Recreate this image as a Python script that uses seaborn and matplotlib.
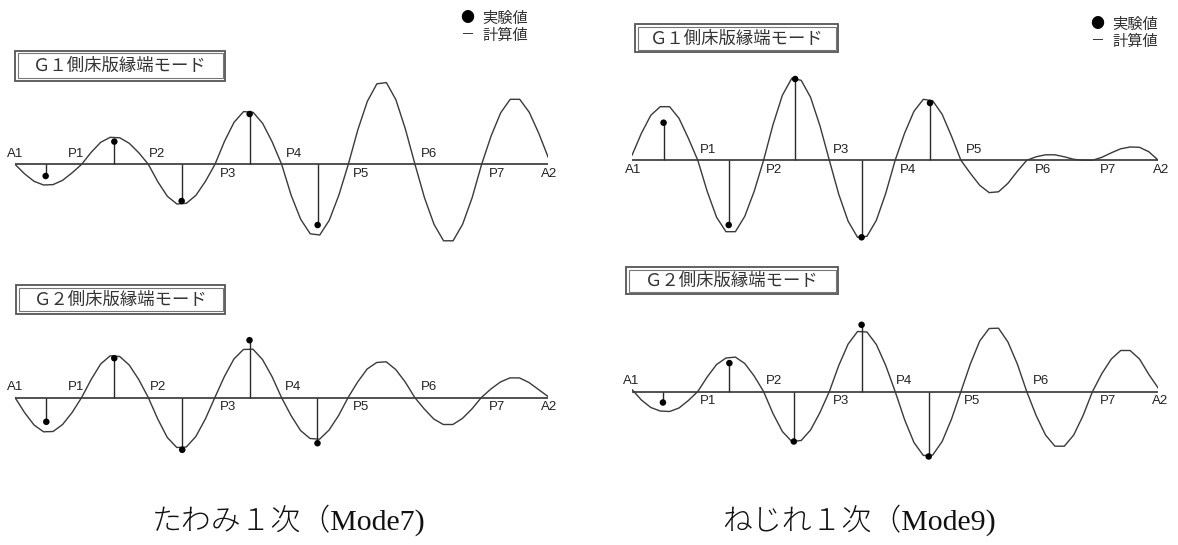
import numpy as np
import matplotlib
matplotlib.use("Agg")
import matplotlib.pyplot as plt
from matplotlib.patches import Rectangle
from matplotlib.transforms import Affine2D
import seaborn as sns

# ---- data -------------------------------------------------------------
support_labels = ["A1", "P1", "P2", "P3", "P4", "P5", "P6", "P7", "A2"]
panel_titles = ["Ｇ１側床版縁端モード", "Ｇ１側床版縁端モード",
                "Ｇ２側床版縁端モード", "Ｇ２側床版縁端モード"]
mode_captions = ["たわみ１次（Mode7)", "ねじれ１次（Mode9)"]
legend_labels = ["実験値", "計算値"]

# computed mode shape, 7 elements per span (57 nodes, A1 -> A2)
g1_mode7_calc = [
    0.0,
    -9.5, -17.0, -20.7, -20.3, -16.0, -8.5, 0.0,
    12.0, 22.0, 27.0, 26.5, 21.0, 11.5, 0.0,
    -17.5, -32.0, -39.7, -39.0, -31.0, -17.0, 0.0,
    23.0, 42.0, 52.7, 52.0, 41.0, 22.5, 0.0,
    -31.0, -55.0, -69.5, -70.7, -56.0, -31.0, 0.0,
    34.5, 63.0, 80.5, 81.7, 64.5, 35.0, 0.0,
    -33.5, -60.0, -76.5, -76.5, -60.0, -33.5, 0.0,
    28.5, 51.5, 65.0, 65.0, 52.0, 31.0, 6.7]
g1_mode9_calc = [
    5.0,
    27.0, 45.0, 53.6, 53.6, 42.0, 22.0, 0.0,
    -31.0, -57.0, -71.4, -71.4, -56.0, -31.0, 0.0,
    35.5, 65.0, 82.0, 80.0, 63.0, 34.5, 0.0,
    -34.0, -61.0, -77.0, -76.0, -60.0, -33.0, 0.0,
    27.0, 49.0, 61.0, 59.5, 46.0, 24.0, 0.0,
    -13.0, -25.0, -32.3, -31.5, -23.0, -11.0, 0.0,
    3.5, 5.5, 5.5, 3.5, 1.0, 0.0, 0.0,
    3.0, 7.5, 11.5, 13.3, 13.0, 8.5, 0.0]
g2_mode7_calc = [
    0.0,
    -15.0, -27.5, -34.3, -34.0, -27.0, -15.0, 0.0,
    18.0, 33.5, 41.7, 41.0, 32.5, 18.0, 0.0,
    -21.5, -40.0, -50.0, -49.5, -39.0, -21.5, 0.0,
    21.0, 38.5, 48.0, 48.3, 38.0, 21.0, 0.0,
    -18.0, -33.0, -41.0, -41.7, -32.5, -18.0, 0.0,
    15.5, 28.5, 35.0, 35.7, 28.0, 15.5, 0.0,
    -11.5, -21.5, -27.0, -27.0, -21.0, -11.5, 0.0,
    8.5, 15.5, 19.6, 19.6, 15.0, 8.0, 1.0]
g2_mode9_calc = [
    2.0,
    -8.5, -16.0, -19.5, -20.0, -16.5, -9.0, 0.0,
    14.5, 27.0, 33.5, 34.4, 28.0, 15.5, 0.0,
    -22.0, -40.0, -50.0, -49.0, -38.5, -21.0, 0.0,
    26.0, 47.5, 60.0, 59.5, 47.0, 26.0, 0.0,
    -28.0, -51.0, -64.0, -63.5, -50.0, -27.5, 0.0,
    27.5, 50.5, 63.0, 63.3, 49.5, 27.5, 0.0,
    -24.0, -43.5, -54.7, -54.7, -43.5, -24.0, 0.0,
    18.0, 32.5, 41.0, 41.0, 32.5, 17.0, 3.3]

# measured values (position in spans from A1, amplitude)
g1_mode7_exp_x = [0.46, 1.49, 2.50, 3.52, 4.54]
g1_mode7_exp_y = [-11.7, 22.7, -36.7, 50.3, -60.7]
g1_mode9_exp_x = [0.48, 1.47, 2.48, 3.49, 4.53]
g1_mode9_exp_y = [37.6, -64.7, 81.3, -77.0, 57.3]
g2_mode7_exp_x = [0.47, 1.49, 2.51, 3.52, 4.54]
g2_mode7_exp_y = [-24.3, 39.3, -52.3, 57.3, -45.7]
g2_mode9_exp_x = [0.47, 1.48, 2.46, 3.49, 4.51]
g2_mode9_exp_y = [-11.0, 28.4, -50.0, 66.7, -65.0]

# ---- style ------------------------------------------------------------
sns.set_theme(style="white")
plt.rcParams["font.family"] = ["Noto Sans CJK JP", "DejaVu Sans"]

W, H = 1178, 545
fig = plt.figure(figsize=(W / 100, H / 100), dpi=100)
fig.patch.set_facecolor("white")
# pixel transform with origin at the top-left corner of the figure
PX = Affine2D().scale(1.0 / W, -1.0 / H).translate(0, 1) + fig.transFigure

HALF = 100  # half height of each panel in pixels (1 unit = 1 px)
N_SPANS = len(support_labels) - 1
ELEMS = 7
node_x = np.arange(N_SPANS * ELEMS + 1) / ELEMS

# side: a = label above the girder line, b = below
panels = [
    dict(calc=g1_mode7_calc, ex=g1_mode7_exp_x, ey=g1_mode7_exp_y,
         x0=15, x1=548.3, base=164.3, side="aaabababb",
         dx=[0.0, -0.08, 0.13, 0.19, 0.19, 0.19, 0.21, 0.23, 0.01],
         title=panel_titles[0], box=(15, 50.7, 210, 30)),
    dict(calc=g1_mode9_calc, ex=g1_mode9_exp_x, ey=g1_mode9_exp_y,
         x0=632, x1=1158.3, base=160.3, side="babababbb",
         dx=[0.02, 0.15, 0.16, 0.17, 0.19, 0.20, 0.24, 0.23, 0.04],
         title=panel_titles[1], box=(635, 24, 203, 28)),
    dict(calc=g2_mode7_calc, ex=g2_mode7_exp_x, ey=g2_mode7_exp_y,
         x0=15, x1=548.0, base=397.5, side="aaabababb",
         dx=[0.0, -0.08, 0.14, 0.19, 0.18, 0.19, 0.21, 0.23, 0.01],
         title=panel_titles[2], box=(16, 285, 209, 28.5)),
    dict(calc=g2_mode9_calc, ex=g2_mode9_exp_x, ey=g2_mode9_exp_y,
         x0=632, x1=1158.3, base=391.5, side="ababababb",
         dx=[-0.02, 0.15, 0.16, 0.17, 0.13, 0.17, 0.21, 0.23, 0.02],
         title=panel_titles[3], box=(626, 267.3, 212, 27)),
]

LINE = "#3a3a3a"
for p in panels:
    ax = fig.add_axes([p["x0"] / W, 1 - (p["base"] + HALF) / H,
                       (p["x1"] - p["x0"]) / W, 2 * HALF / H])
    ax.set_xlim(0, N_SPANS)
    ax.set_ylim(-HALF, HALF)
    ax.axis("off")
    ax.axhline(0, color="#222222", lw=1.1, zorder=1)
    sns.lineplot(x=node_x, y=p["calc"], ax=ax, color=LINE, lw=1.0,
                 sort=False, estimator=None, zorder=2)
    ax.vlines(p["ex"], 0, p["ey"], color="#2a2a2a", lw=1.0, zorder=3)
    sns.scatterplot(x=p["ex"], y=p["ey"], ax=ax, color="black", s=22,
                    edgecolor="none", zorder=4)
    for i, (lab, sd, off) in enumerate(zip(support_labels, p["side"], p["dx"])):
        ax.text(i + off, 10 if sd == "a" else -10, lab, ha="center",
                va="center", fontsize=9.5, color="#222222",
                family=["Liberation Sans", "DejaVu Sans"])
    # double-ruled title box
    bx, by, bw, bh = p["box"]
    fig.patches.append(Rectangle((bx, by), bw, bh, transform=PX, fill=False,
                                 ec="#555555", lw=1.3))
    fig.patches.append(Rectangle((bx + 2.5, by + 2.5), bw - 5, bh - 5,
                                 transform=PX, fill=False, ec="#777777", lw=0.8))
    fig.text(bx + bw / 2, by + bh / 2 + 0.5, p["title"], transform=PX,
             ha="center", va="center", fontsize=12.5, color="#333333")

# legends
for lx, ly in [(466.7, 18.3), (1096.7, 24.0)]:
    fig.text(lx, ly, "●", transform=PX, ha="center", va="center",
             fontsize=10, color="black")
    fig.text(lx, ly + 17, "－", transform=PX, ha="center", va="center",
             fontsize=10, color="#333333")
    fig.text(lx + 16, ly, legend_labels[0], transform=PX, ha="left",
             va="center", fontsize=11, color="#333333")
    fig.text(lx + 16, ly + 17, legend_labels[1], transform=PX, ha="left",
             va="center", fontsize=11, color="#333333")

# mode captions
for cx, cap in zip([288.5, 859.0], mode_captions):
    fig.text(cx, 520, cap, transform=PX, ha="center", va="center",
             fontsize=21.5, color="#111111", fontweight="light",
             family=["Liberation Serif", "Noto Sans CJK JP"])

fig.savefig("out.png", dpi=100, facecolor="white")
